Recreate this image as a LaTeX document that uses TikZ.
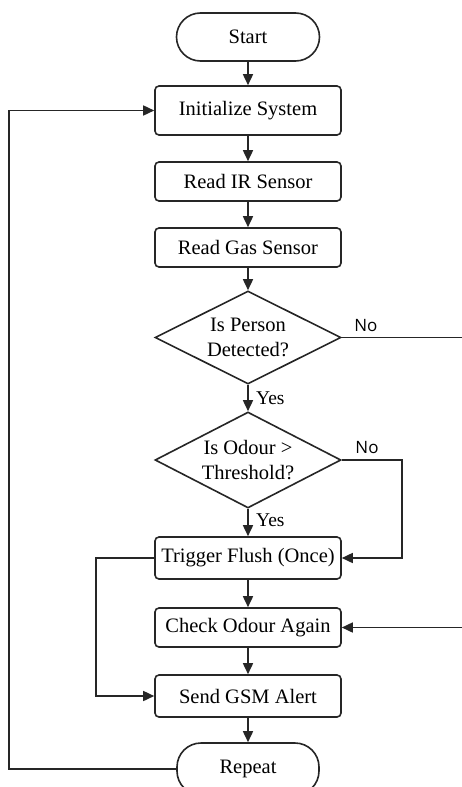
\documentclass[tikz,border=0pt]{standalone}
\usepackage{fontspec}
\setmainfont{Liberation Serif}
\newfontfamily\nofont{Open Sans}
\usetikzlibrary{shapes.geometric,arrows.meta}
\begin{document}
\begin{tikzpicture}[x=1pt,y=-1pt,
  every node/.style={font=\fontsize{20.5}{23}\selectfont},
  conn/.style={line width=1.6pt,draw=black!85},
  arr/.style={conn,-{Triangle[length=11pt,width=10pt]}},
  procbox/.style={draw=black!85,line width=1.6pt,rounded corners=4pt,minimum width=186pt,inner sep=0pt},
  term/.style={draw=black!85,line width=1.6pt,rounded corners=24pt,minimum width=143pt,inner sep=0pt},
  decide/.style={draw=black!85,line width=1.6pt,diamond,aspect=2,minimum width=186pt,inner sep=0pt,align=center,font=\fontsize{20.5}{25}\selectfont},
  nolabel/.style={font=\nofont\fontsize{17}{19}\selectfont},
  yeslabel/.style={font=\fontsize{19.5}{21}\selectfont}
]
\useasboundingbox[fill=white] (0,0) rectangle (462,787);
\begin{scope}
\clip (0,0) rectangle (462,787);
\node[term,minimum height=48pt] (start) at (248,37) {Start};
\node[procbox,minimum height=49pt] (init) at (248,110.5) {Initialize System};
\node[procbox,minimum height=39pt] (ir) at (248,181.5) {Read IR Sensor};
\node[procbox,minimum height=39pt] (gas) at (248,247.5) {Read Gas Sensor};
\node[decide,minimum height=93pt] (d1) at (248,337.5) {Is Person\\Detected?};
\node[decide,minimum height=96pt] (d2) at (248,460) {Is Odour >\\Threshold?};
\node[procbox,minimum height=42pt] (trig) at (248,558) {Trigger Flush (Once)};
\node[procbox,minimum height=39pt] (check) at (248,627.5) {Check Odour Again};
\node[procbox,minimum height=42pt] (send) at (248,696) {Send GSM Alert};
\node[term,minimum height=52pt,minimum width=142pt] (rep) at (248,769) {Repeat};

\coordinate (noend) at (462,337.5);
\coordinate (nostart) at (462,627.5);
\coordinate (d2right) at (402,460);
\coordinate (leftloop) at (96,558);
\coordinate (outer) at (9,769);

\draw[arr] (start) -- (init);
\draw[arr] (init) -- (ir);
\draw[arr] (ir) -- (gas);
\draw[arr] (gas) -- (d1);
\draw[arr] (d1) -- node[yeslabel,right,pos=0.5,xshift=4pt] {Yes} (d2);
\draw[conn] (d1.east) -- node[nolabel,above,pos=0.2,yshift=2pt] {No} (noend);
\draw[arr] (nostart) -- (check.east);
\draw[arr] (d2.east) -- (d2right) |- (trig.east);
\node[nolabel] (no2) at (367,448) {No};
\draw[arr] (d2) -- node[yeslabel,right,pos=0.4,xshift=4pt] {Yes} (trig);
\draw[arr] (trig) -- (check);
\draw[arr] (check) -- (send);
\draw[arr] (send) -- (rep);
\draw[arr] (trig.west) -- (leftloop) |- (send.west);
\draw[arr] (rep.west) -- (outer) |- (init.west);
\end{scope}
\end{tikzpicture}
\end{document}
